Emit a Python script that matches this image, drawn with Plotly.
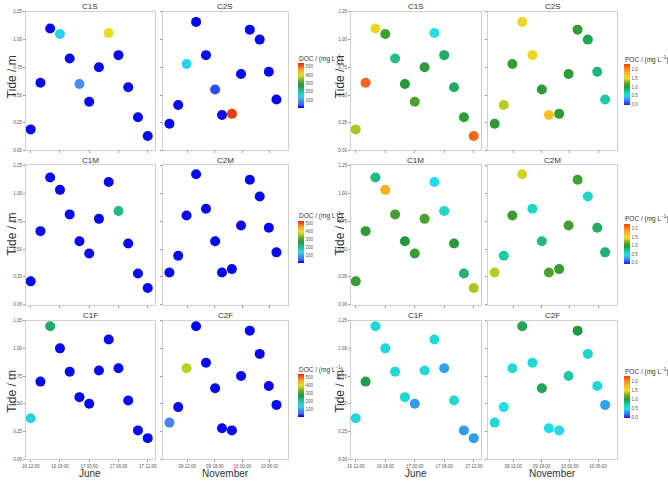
import plotly.graph_objects as go

# ---------------- data ----------------
june_times = ["2019-06-16 12:00", "2019-06-16 14:00", "2019-06-16 16:00", "2019-06-16 18:00",
              "2019-06-16 20:00", "2019-06-16 22:00", "2019-06-17 00:00", "2019-06-17 02:00",
              "2019-06-17 04:00", "2019-06-17 06:00", "2019-06-17 08:00", "2019-06-17 10:00",
              "2019-06-17 12:00"]
nov_times = ["2019-11-09 08:05", "2019-11-09 10:00", "2019-11-09 11:50", "2019-11-09 13:55",
             "2019-11-09 16:05", "2019-11-09 18:05", "2019-11-09 19:35", "2019-11-09 21:45",
             "2019-11-09 23:45", "2019-11-10 01:40", "2019-11-10 03:50", "2019-11-10 05:50",
             "2019-11-10 07:30"]

tide_C1S = [0.19, 0.61, 1.10, 1.05, 0.83, 0.60, 0.44, 0.75, 1.06, 0.86, 0.57, 0.30, 0.13]
tide_C2S = [0.24, 0.41, 0.78, 1.16, 0.86, 0.55, 0.32, 0.33, 0.69, 1.09, 1.00, 0.71, 0.46]
tide_C1M = [0.21, 0.66, 1.14, 1.03, 0.81, 0.57, 0.46, 0.77, 1.10, 0.84, 0.55, 0.28, 0.15]
tide_C2M = [0.29, 0.44, 0.80, 1.17, 0.86, 0.57, 0.29, 0.32, 0.71, 1.12, 0.97, 0.69, 0.47]
tide_C1F = [0.37, 0.70, 1.20, 1.00, 0.79, 0.56, 0.50, 0.80, 1.08, 0.82, 0.53, 0.26, 0.19]
tide_C2F = [0.33, 0.47, 0.82, 1.20, 0.87, 0.64, 0.28, 0.26, 0.75, 1.16, 0.95, 0.66, 0.49]

doc_C1S = [8, 10, 7, 130, 9, 85, 8, 10, 405, 7, 9, 8, 10]
doc_C2S = [8, 10, 140, 7, 11, 30, 9, 525, 8, 7, 10, 8, 7]
doc_C1M = [8, 9, 7, 8, 10, 8, 9, 7, 8, 215, 8, 9, 8]
doc_C2M = [7, 8, 8, 9, 8, 7, 8, 9, 8, 7, 8, 8, 9]
doc_C1F = [150, 8, 240, 8, 9, 7, 8, 10, 8, 9, 7, 8, 8]
doc_C2F = [80, 8, 375, 8, 7, 9, 8, 8, 10, 7, 8, 8, 9]

poc_C1S = [1.35, 2.15, 1.55, 1.08, 0.78, 1.00, 1.12, 1.02, 0.50, 0.88, 0.88, 1.03, 2.15]
poc_C2S = [1.02, 1.38, 1.05, 1.55, 1.55, 1.02, 1.72, 1.02, 1.02, 1.05, 0.92, 0.82, 0.72]
poc_C1M = [1.05, 1.02, 0.80, 1.82, 1.08, 0.98, 1.05, 1.10, 0.45, 0.60, 1.00, 0.85, 1.35]
poc_C2M = [1.38, 0.72, 1.05, 1.42, 0.62, 0.80, 1.12, 1.05, 1.08, 1.08, 0.60, 0.88, 0.85]
poc_C1F = [0.55, 0.95, 0.55, 0.55, 0.55, 0.58, 0.28, 0.55, 0.55, 0.30, 0.55, 0.28, 0.28]
poc_C2F = [0.55, 0.50, 0.55, 0.92, 0.55, 0.92, 0.50, 0.52, 0.72, 0.98, 0.58, 0.55, 0.30]

panel_titles = [["C1S", "C2S"], ["C1M", "C2M"], ["C1F", "C2F"]]
month_labels = ["June", "November"]
doc_ticks = [100, 200, 300, 400, 500]
poc_ticks = [0.0, 0.5, 1.0, 1.5, 2.0]
y_ticks = [0, 0.25, 0.5, 0.75, 1.0, 1.25]

# ---------------- layout geometry (pixels) ----------------
W, H = 668, 481
col_px = [[(22, 152), (160, 287)], [(350, 481), (488, 619)]]
row_px = [(10, 150), (165, 306), (322, 462)]
x_ranges = [["2019-06-16 11:00", "2019-06-17 13:25"], ["2019-11-09 06:35", "2019-11-10 10:07"]]
x_tick0 = ["2019-06-16 12:00", "2019-11-09 12:00"]

FONT = "Liberation Sans, Arial, sans-serif"

doc_scale = [[0.00, "#0000ee"], [0.025, "#0a10ee"], [0.07, "#3a6aee"], [0.15, "#4a86ee"],
             [0.25, "#28d8f0"], [0.37, "#20c0a0"], [0.50, "#1f9a40"], [0.60, "#6aaa22"],
             [0.74, "#e8e020"], [0.86, "#f8a020"], [1.00, "#f02010"]]
poc_scale = [[0.00, "#2020d8"], [0.10, "#3a78ee"], [0.22, "#20e0f0"], [0.33, "#20c8a0"],
             [0.44, "#22983c"], [0.54, "#70a822"], [0.65, "#e8e020"], [0.76, "#f8c020"],
             [0.87, "#f89020"], [1.00, "#f04010"]]

tides = [[tide_C1S, tide_C2S], [tide_C1M, tide_C2M], [tide_C1F, tide_C2F]]
vals = [
    [[doc_C1S, doc_C2S], [doc_C1M, doc_C2M], [doc_C1F, doc_C2F]],
    [[poc_C1S, poc_C2S], [poc_C1M, poc_C2M], [poc_C1F, poc_C2F]],
]
times = [june_times, nov_times]

fig = go.Figure()
layout = dict(width=W, height=H, margin=dict(l=0, r=0, t=0, b=0), autosize=False,
              paper_bgcolor="white", plot_bgcolor="white", showlegend=False,
              font=dict(family=FONT, color="#333"))
annotations = []

def fx(px):
    return px / W

def fy(px):
    return 1 - px / H

for g in range(2):
    for r in range(3):
        ca_idx = g * 3 + r + 1
        ca_name = "coloraxis" if ca_idx == 1 else f"coloraxis{ca_idx}"
        for c in range(2):
            n = g * 6 + r * 2 + c + 1
            xa = "x" if n == 1 else f"x{n}"
            ya = "y" if n == 1 else f"y{n}"
            fig.add_trace(go.Scatter(
                x=times[c], y=tides[r][c], mode="markers", xaxis=xa, yaxis=ya,
                marker=dict(size=10, color=vals[g][r][c], coloraxis=ca_name,
                            line=dict(width=0)),
                hoverinfo="x+y"))
            x0, x1 = col_px[g][c]
            y0, y1 = row_px[r]
            layout["xaxis" if n == 1 else f"xaxis{n}"] = dict(
                domain=[fx(x0), fx(x1)], anchor=ya, type="date", range=x_ranges[c],
                tick0=x_tick0[c], dtick=6 * 3600 * 1000, tickformat="%d %H:%M",
                showticklabels=(r == 2), ticks="outside", ticklen=2, tickcolor="#999",
                tickfont=dict(size=4.5, color="#555"), showgrid=False, zeroline=False,
                showline=True, mirror=True, linecolor="#d0d0d0", linewidth=1)
            layout["yaxis" if n == 1 else f"yaxis{n}"] = dict(
                domain=[fy(y1), fy(y0)], anchor=xa, range=[0, 1.25],
                tickvals=y_ticks, tickformat=".2f", showticklabels=(c == 0),
                ticks="outside", ticklen=2, tickcolor="#999",
                tickfont=dict(size=4.5, color="#555"), showgrid=False, zeroline=False,
                showline=True, mirror=True, linecolor="#d0d0d0", linewidth=1)
            annotations.append(dict(text=panel_titles[r][c], xref="paper", yref="paper",
                                    x=fx((x0 + x1) / 2), y=fy(y0 - 5), xanchor="center",
                                    yanchor="middle", showarrow=False,
                                    font=dict(size=8, color="#333")))
            if r == 2:
                annotations.append(dict(text=month_labels[c], xref="paper", yref="paper",
                                        x=fx((x0 + x1) / 2), y=fy(476), xanchor="center",
                                        yanchor="middle", showarrow=False,
                                        font=dict(size=10, color="#333")))
        # colour axis per row
        if g == 0:
            cb_x = 297
            cb_top = [62, 221, 376][r]
            cb_len = [45, 42, 43][r]
            title = "DOC / (mg L<sup>−1</sup>)"
            cax = dict(cmin=0, cmax=540, colorscale=doc_scale,
                       colorbar=dict(tickvals=doc_ticks))
        else:
            cb_x = 626
            cb_top = [63, 224, 378][r]
            cb_len = [41, 40, 42][r]
            title = "POC / (mg L<sup>−1</sup>)"
            cax = dict(cmin=-0.05, cmax=2.3, colorscale=poc_scale,
                       colorbar=dict(tickvals=poc_ticks, tickformat=".1f"))
        cax["colorbar"].update(dict(x=fx(cb_x), xanchor="left", xpad=0, ypad=0,
                                    y=fy(cb_top), yanchor="top", lenmode="pixels",
                                    len=cb_len, thickness=6, outlinewidth=0, ticks="",
                                    tickfont=dict(size=4.5, color="#555")))
        layout[ca_name] = cax
        annotations.append(dict(text=title, xref="paper", yref="paper", x=fx(cb_x - 1),
                                y=fy(cb_top - 5), xanchor="left", yanchor="middle",
                                showarrow=False, font=dict(size=6.5, color="#333")))
        # y axis title per row
        ty = [75, 234, 393][r]
        tx = [8, 339][g]
        annotations.append(dict(text="Tide / m", xref="paper", yref="paper", x=fx(tx),
                                y=fy(ty), xanchor="center", yanchor="middle", textangle=-90,
                                showarrow=False, font=dict(size=12, color="#333")))

layout["annotations"] = annotations
fig.update_layout(**layout)
fig.write_html("out.html")
